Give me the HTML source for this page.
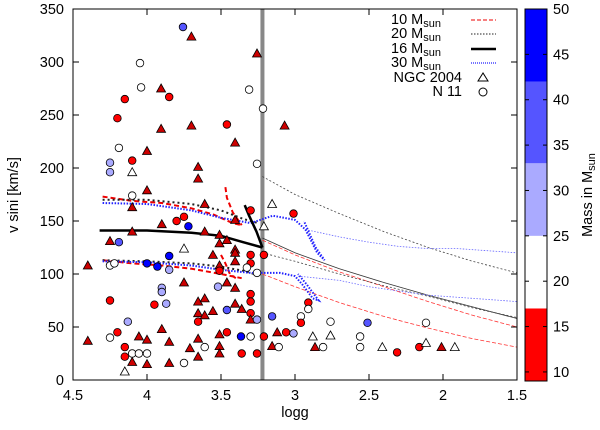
<!DOCTYPE html>
<html><head><meta charset="utf-8"><style>
body{margin:0;background:#fff}
svg{display:block;font-family:"Liberation Sans",sans-serif}
</style></head><body>
<svg id="chart" width="600" height="430" viewBox="0 0 600 430"></svg>
<script>
// ---- data ----
const starLogg = [3.757,3.70,3.257,4.047,4.04,3.905,3.85,4.15,3.31,3.216,4.20,3.905,3.70,3.46,3.405,3.07,4.19,4.0,4.10,4.25,4.25,4.10,3.655,3.655,3.257,4.0,4.10,
4.10,3.61,3.155,3.30,3.405,3.80,3.75,3.72,3.90,4.10,3.21,4.25,4.19,3.61,3.51,3.51,3.46,3.75,3.405,3.405,3.30,3.21,3.555,3.405,3.85,4.0,3.93,3.85,4.25,4.22,4.40,3.51,3.51,3.30,3.325,3.257,3.75,3.46,3.52,3.405,3.90,3.90,4.25,3.95,3.87,3.655,3.61,3.405,3.30,3.30,3.46,3.655,3.61,3.555,3.36,3.30,3.30,3.257,3.155,4.13,3.655,4.20,4.25,4.40,4.055,4.0,3.90,3.85,3.655,3.51,3.46,3.365,3.30,3.21,3.12,3.155,3.11,4.15,4.15,4.10,4.055,4.0,4.10,4.0,3.85,3.75,4.15,3.71,3.61,3.655,3.51,3.51,3.36,3.257,
3.01,2.91,2.91,2.96,2.96,2.76,2.51,2.115,3.06,3.01,2.88,2.76,2.56,2.865,2.81,2.56,2.41,2.31,2.16,2.115,2.01,1.92];
const starVsini = [333,324,308,299,276,275,267,265,274,256,247,237,240,241,224,240,219,216,207,205,196,196,201,190,204,179,174,
163,166,166,160,151,150,154,145,147,140,145,131,130,140,137,129,132,124,123,120,118,118,118,112,117,110,107,104,108,110,108,108,103,110,106,101,92,92,88,87,87,83,75,71,72,74,77,72,81,74,66,63,61,65,67,63,57,57,60,55,55,45,40,37,41,38,48,36,39,43,45,41,41,41,45,32,31,31,22,25,25,25,17,15,16,16,8,30,31,22,32,25,25,25,
157,73,67,60,54,55,54,54,45,44,41,42,41,31,31,31,31,26,31,35,31,31];
const starMass = [38,12,12,22,22,12,12,12,22,22,12,12,12,12,12,12,22,12,12,30,30,22,12,12,22,12,22,
12,12,22,12,12,12,12,45,12,12,22,12,38,12,12,12,12,22,12,12,12,12,12,12,45,45,45,30,22,22,12,12,12,12,22,22,12,12,30,12,30,30,12,12,30,12,12,12,12,12,38,12,12,12,12,12,12,30,38,30,12,12,22,12,12,12,12,12,12,12,12,45,22,12,12,12,22,12,12,22,22,22,12,12,12,22,22,12,22,12,12,12,12,12,
12,12,22,22,12,22,38,22,12,30,22,22,22,12,22,22,22,12,12,22,12,22];
const starType = ["c","t","t","c","c","t","c","c","c","c","c","t","t","c","t","t","c","t","c","c","c","t","t","t","c","t","c",
"t","t","t","c","t","c","c","c","t","t","t","t","c","t","t","t","t","t","t","t","c","c","t","t","c","c","c","c","c","c","t","t","c","c","c","c","t","t","c","t","c","c","c","c","c","t","t","t","c","c","c","t","t","t","t","c","t","c","c","c","c","c","c","t","t","t","t","t","t","t","c","c","c","c","t","t","c","c","c","c","c","c","t","t","t","c","t","t","c","t","t","t","c","c",
"c","c","c","c","c","c","c","c","c","c","t","t","c","t","c","c","t","c","c","t","t","t"];
// tracks: [logg, vsini] pairs
const track10a = [[4.3,173],[4.1,169],[3.9,167],[3.7,162],[3.55,156],[3.42,148],[3.36,146]];
const track10aHook = [[3.47,182],[3.46,172],[3.42,158],[3.38,150],[3.36,146]];
const track10b = [[4.3,113],[4.1,110],[3.9,108],[3.7,105],[3.5,100],[3.36,96]];
const track10bHook = [[3.5,118],[3.47,110],[3.44,100],[3.40,96]];
const track10aThin = [[3.22,132],[3.0,118],[2.7,102],[2.4,88],[2.1,74],[1.8,61],[1.5,50]];
const track10bThin = [[3.22,100],[3.0,88],[2.7,73],[2.4,60],[2.1,49],[1.8,39],[1.5,31]];
const track20a = [[4.3,170],[4.0,170],[3.7,166],[3.5,160],[3.35,152],[3.25,148]];
const track20b = [[4.3,113],[4.0,112],[3.7,110],[3.5,107],[3.35,103],[3.25,99]];
const track20aThin = [[3.22,192],[3.0,175],[2.7,157],[2.4,140],[2.1,125],[1.8,112],[1.5,101]];
const track20bThin = [[3.22,120],[3.0,112],[2.7,100],[2.4,89],[2.1,79],[1.8,68],[1.5,59]];
const track16 = [[4.32,141],[4.0,141],[3.7,139],[3.5,136],[3.35,130],[3.22,125]];
const track16Hook = [[3.22,125],[3.26,140],[3.31,155],[3.34,165]];
const track16Thin = [[3.22,134],[3.0,120],[2.7,105],[2.4,92],[2.1,80],[1.8,69],[1.5,58]];
const track30a = [[4.3,167],[4.0,166],[3.7,160],[3.5,153],[3.3,148],[3.15,155],[3.0,151],[2.93,142],[2.85,120],[2.8,113],[2.86,125],[2.94,150]];
const track30aThin = [[2.93,142],[2.7,135],[2.5,130],[2.3,126],[2.1,124],[1.9,124],[1.7,122],[1.5,120]];
const track30b = [[4.3,112],[4.0,111],[3.7,108],[3.5,104],[3.3,101],[3.1,101],[3.0,98],[2.95,90],[2.88,77],[2.84,75],[2.92,90],[2.98,100]];
const track30bThin = [[2.98,98],[2.7,94],[2.5,88],[2.3,84],[2.1,80],[1.9,78],[1.7,76],[1.5,74]];
const xTicks = [4.5,4,3.5,3,2.5,2,1.5];
const yTicks = [0,50,100,150,200,250,300,350];
const cbTicks = [10,15,20,25,30,35,40,45,50];
const cbBands = [[9,17],[17,25],[25,33],[33,42],[42,50]];
const cbColors = ["#ff0000","#ffffff","#aaaaff","#5555ff","#0000ff"];
const legendLabels = ["10 M","20 M","16 M","30 M","NGC 2004","N 11"];
const boundaryLogg = 3.22;

// ---- scales ----
const X0=73,X1=517,Y0=380,Y1=9;
const sx = g => X0 + (4.5-g)*(X1-X0)/3;
const sy = v => Y0 - v*(Y0-Y1)/350;
const CBT=9,CBB=381, cbMin=9, cbMax=50;
const sc = m => CBB - (m-cbMin)*(CBB-CBT)/(cbMax-cbMin);
const NS="http://www.w3.org/2000/svg";
const svg=document.getElementById('chart');
const FS=14.5;
function mk(tag,attrs,parent){const e=document.createElementNS(NS,tag);for(const k in attrs)e.setAttribute(k,attrs[k]);(parent||svg).appendChild(e);return e;}
function colorFor(m){for(let i=0;i<cbBands.length;i++){if(m>=cbBands[i][0]&&m<cbBands[i][1])return cbColors[i];}return cbColors[cbColors.length-1];}
function pts(arr){return arr.map(p=>sx(p[0]).toFixed(1)+","+sy(p[1]).toFixed(1)).join(" ");}

// boundary line
let bl=mk('line',{x1:sx(boundaryLogg),x2:sx(boundaryLogg),y1:Y1,y2:Y0,stroke:'#888',"stroke-width":4});



// tracks
function track(arr,color,w,dash,name){const p=mk('polyline',{points:pts(arr),fill:'none',stroke:color,"stroke-width":w,"stroke-dasharray":dash||'none'});

}
track(track10aThin,'#ff3333',0.8,'4,2','track-10msun-upper-thin');
track(track10bThin,'#ff3333',0.8,'4,2','track-10msun-lower-thin');
track(track20aThin,'#444',0.8,'2,2','track-20msun-upper-thin');
track(track20bThin,'#444',0.8,'2,2','track-20msun-lower-thin');
track(track16Thin,'#333',0.8,'','track-16msun-thin');
track(track30aThin,'#6666ff',0.8,'1.5,1.5','track-30msun-upper-thin');
track(track30bThin,'#6666ff',0.8,'1.5,1.5','track-30msun-lower-thin');
track(track10a,'#ee0000',2,'5,3','track-10msun-upper');
track(track10aHook,'#ee0000',2,'5,3','track-10msun-upper-hook');
track(track10b,'#ee0000',2,'5,3','track-10msun-lower');
track(track10bHook,'#ee0000',2,'5,3','track-10msun-lower-hook');
track(track20a,'#222',2,'2,3','track-20msun-upper');
track(track20b,'#222',2,'2,3','track-20msun-lower');
track(track30a,'#2222ff',2,'1.5,1.5','track-30msun-upper');
track(track30b,'#2222ff',2,'1.5,1.5','track-30msun-lower');
track(track16,'#000',2.5,'','track-16msun');
track(track16Hook,'#000',2.5,'','track-16msun-hook');

// stars
for(let i=0;i<starLogg.length;i++){
  const x=sx(starLogg[i]),y=sy(starVsini[i]),c=colorFor(starMass[i]);
  let e;
  if(starType[i]==="c"){e=mk('circle',{cx:x.toFixed(1),cy:y.toFixed(1),r:3.8,fill:c,stroke:'#000',"stroke-width":0.8});}
  else{e=mk('polygon',{points:`${x.toFixed(1)},${(y-4.5).toFixed(1)} ${(x-4.5).toFixed(1)},${(y+3.5).toFixed(1)} ${(x+4.5).toFixed(1)},${(y+3.5).toFixed(1)}`,fill:c==="#ff0000"?"#cc0000":c,stroke:'#000',"stroke-width":0.8});}
  
  
}

// frame
let fr=mk('rect',{x:X0,y:Y1,width:X1-X0,height:Y0-Y1,fill:'none',stroke:'#000',"stroke-width":1});


xTicks.forEach(t=>{const x=sx(t);
  mk('line',{x1:x,x2:x,y1:Y0,y2:Y0-6,stroke:'#000'});mk('line',{x1:x,x2:x,y1:Y1,y2:Y1+6,stroke:'#000'});
  const tx=mk('text',{x:x,y:Y0+20,"text-anchor":"middle","font-size":FS});tx.textContent=String(t);
  
  });
yTicks.forEach(t=>{const y=sy(t);
  mk('line',{x1:X0,x2:X0+6,y1:y,y2:y,stroke:'#000'});mk('line',{x1:X1,x2:X1-6,y1:y,y2:y,stroke:'#000'});
  const tx=mk('text',{x:X0-9,y:y+5,"text-anchor":"end","font-size":FS});tx.textContent=String(t);
  
  });
let xt=mk('text',{x:295,y:417,"text-anchor":"middle","font-size":FS});xt.textContent="logg";


let yt=mk('text',{x:0,y:0,"text-anchor":"middle","font-size":FS,transform:"translate(18,195) rotate(-90)"});yt.textContent="v sini [km/s]";



// colorbar
cbBands.forEach((b,i)=>{const r=mk('rect',{x:525,y:sc(b[1]),width:22,height:sc(b[0])-sc(b[1]),fill:cbColors[i]});
  
  });
let cbf=mk('rect',{x:525,y:CBT,width:22,height:CBB-CBT,fill:'none',stroke:'#000'});


cbTicks.forEach(t=>{const y=sc(t);
  mk('line',{x1:525,x2:529,y1:y,y2:y,stroke:'#000'});mk('line',{x1:547,x2:543,y1:y,y2:y,stroke:'#000'});
  const tx=mk('text',{x:553,y:y+5,"font-size":FS});tx.textContent=String(t);
  
  });
let ct=mk('text',{x:0,y:0,"text-anchor":"middle","font-size":FS,transform:"translate(592,195) rotate(-90)"});
ct.innerHTML='Mass in M<tspan font-size="11" dy="3">sun</tspan>';



// legend
const legY=[20,34,49,63,78,92];
const legStyles=[['#ee0000','4,2',1],['#222','1.5,1.5',1],['#000','',2.5],['#2222ff','1,1',1.2]];
legendLabels.forEach((lab,i)=>{
  const g=mk('g',{});
  
  
  const t=mk('text',{x:i<4?441:462,y:legY[i]+4,"text-anchor":"end","font-size":FS},g);
  t.textContent=lab;
  if(i<4){const s=mk('tspan',{"font-size":11,dy:3},t);s.textContent="sun";
    mk('line',{x1:471,x2:496,y1:legY[i],y2:legY[i],stroke:legStyles[i][0],"stroke-width":legStyles[i][2],"stroke-dasharray":legStyles[i][1]},g);}
  else if(i===4){mk('polygon',{points:`483,${legY[i]-5} 478,${legY[i]+3} 488,${legY[i]+3}`,fill:'#fff',stroke:'#000'},g);}
  else{mk('circle',{cx:483,cy:legY[i],r:4,fill:'#fff',stroke:'#000'},g);}
});
</script>
</body></html>
